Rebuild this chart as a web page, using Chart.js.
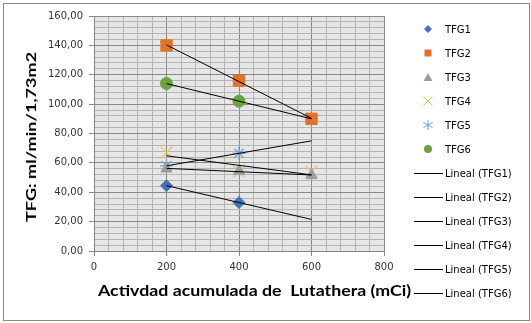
<!DOCTYPE html>
<html>
<head>
<meta charset="utf-8">
<script src="https://cdn.jsdelivr.net/npm/chart.js@4.4.1/dist/chart.umd.min.js"></script>
<style>
body { margin: 0; background: #fff; }
#wrap { position: relative; width: 531px; height: 323px; overflow: hidden; }
#frame { position: absolute; left: 3px; top: 3px; width: 527px; height: 318px; border: 1px solid #888; box-sizing: border-box; }
canvas { position: absolute; left: 0; top: 0; }
.title { position: absolute; font-family: Lato, "Open Sans", sans-serif; font-weight: bold; font-size: 16px; color: #000; white-space: nowrap; line-height: 20px; }
#xtitle { left: 98px; top: 280px; transform-origin: 0 50%; transform: scaleX(1.11); }
#ytitle { left: 31px; top: 137px; transform: translate(-50%, -50%) rotate(-90deg) scaleX(1.29); font-size: 14px; }
.leg { position: absolute; left: 413px; height: 12px; font: 10px "DejaVu Sans", sans-serif; color: #000; white-space: nowrap; display: flex; align-items: center; }
.leg svg { width: 30px; height: 12px; margin-right: 2px; }
</style>
</head>
<body>
<div id="wrap">
  <div id="frame"></div>
  <canvas id="chart" width="531" height="323"></canvas>
  <div class="title" id="xtitle">Activdad acumulada de&nbsp; Lutathera (mCi)</div>
  <div class="title" id="ytitle">TFG: ml/min/1,73m2</div>
  <div id="legend"></div>
</div>
<script>
// data
const doses = [200, 400, 600];
const tfg1 = [44.5, 33, null];
const tfg2 = [140, 116, 90];
const tfg3 = [56, 54.5, 51.5];
const tfg4 = [67, 54, 54];
const tfg5 = [58, 66.5, null];
const tfg6 = [114, 102, null];
const seriesNames = ['TFG1', 'TFG2', 'TFG3', 'TFG4', 'TFG5', 'TFG6'];
const xTicks = [0, 200, 400, 600, 800];
const yTicks = [0, 20, 40, 60, 80, 100, 120, 140, 160];

const allSeries = [tfg1, tfg2, tfg3, tfg4, tfg5, tfg6];
const colors = ['#4670b8', '#e2712b', '#9c9c9c', '#f0c04c', '#6f9fd8', '#6aa33f'];
const styles = ['rectRot', 'rect', 'triangle', 'crossRot', 'star', 'circle'];
const radii = [6, 8, 6.5, 8.5, 6.5, 6];

// least squares trend line, drawn across the dose range
function trend(ys) {
    const pts = doses.map((x, i) => ({ x: x, y: ys[i] })).filter(p => p.y !== null);
    const n = pts.length;
    const mx = pts.reduce((s, p) => s + p.x, 0) / n;
    const my = pts.reduce((s, p) => s + p.y, 0) / n;
    let num = 0, den = 0;
    pts.forEach(p => { num += (p.x - mx) * (p.y - my); den += (p.x - mx) * (p.x - mx); });
    const b = num / den;
    const x0 = doses[0], x1 = doses[doses.length - 1];
    return [{ x: x0, y: my + b * (x0 - mx) }, { x: x1, y: my + b * (x1 - mx) }];
}

const datasets = [];
allSeries.forEach((ys, i) => {
    const thin = styles[i] === 'crossRot' || styles[i] === 'star';
    datasets.push({
        label: seriesNames[i],
        data: doses.map((x, j) => ({ x: x, y: ys[j] })).filter(p => p.y !== null),
        showLine: false,
        pointStyle: styles[i],
        pointRadius: radii[i],
        backgroundColor: colors[i],
        borderColor: colors[i],
        borderWidth: thin ? 1.2 : 1,
        order: 1
    });
});
allSeries.forEach((ys, i) => {
    datasets.push({
        label: 'Lineal (' + seriesNames[i] + ')',
        data: trend(ys),
        showLine: true,
        borderColor: '#000',
        borderWidth: 1,
        pointRadius: 0,
        order: 0
    });
});

function isMajor(v, list) {
    return list.indexOf(Math.round(v)) !== -1 && Math.abs(v - Math.round(v)) < 1e-6;
}

new Chart(document.getElementById('chart'), {
    type: 'scatter',
    data: { datasets: datasets },
    options: {
        responsive: false,
        animation: false,
        layout: { padding: { top: 16, right: 147, left: 0, bottom: 0 } },
        plugins: {
            legend: { display: false },
            tooltip: { enabled: false },
            bgPlot: { color: '#e6e6e6' }
        },
        scales: {
            x: {
                type: 'linear',
                min: 0,
                max: 800,
                afterFit: s => { s.height = 72; },
                border: { color: '#868686' },
                grid: {
                    color: c => isMajor(c.tick.value, xTicks) ? '#878787' : '#b4b4b4',
                    tickColor: c => isMajor(c.tick.value, xTicks) ? '#878787' : 'rgba(0,0,0,0)',
                    tickLength: 5
                },
                ticks: {
                    stepSize: 40,
                    autoSkip: false,
                    maxRotation: 0,
                    padding: 5,
                    color: '#333',
                    font: { family: 'DejaVu Sans', size: 10 },
                    callback: v => isMajor(v, xTicks) ? String(Math.round(v)) : ''
                }
            },
            y: {
                min: 0,
                max: 160,
                afterFit: s => { s.width = 94; },
                border: { color: '#868686' },
                grid: {
                    color: c => isMajor(c.tick.value, yTicks) ? '#878787' : '#b4b4b4',
                    tickColor: c => isMajor(c.tick.value, yTicks) ? '#878787' : 'rgba(0,0,0,0)',
                    tickLength: 5
                },
                ticks: {
                    stepSize: 4,
                    autoSkip: false,
                    padding: 6,
                    color: '#333',
                    font: { family: 'DejaVu Sans', size: 10 },
                    callback: v => isMajor(v, yTicks) ? Math.round(v).toFixed(2).replace('.', ',') : ''
                }
            }
        }
    },
    plugins: [{
        id: 'bgPlot',
        beforeDraw(chart, args, opts) {
            const a = chart.chartArea;
            const ctx = chart.ctx;
            ctx.save();
            ctx.fillStyle = opts.color;
            ctx.fillRect(a.left, a.top, a.right - a.left, a.bottom - a.top);
            ctx.restore();
        }
    }]
});

// legend built as html next to the chart
function icon(style, color) {
    const c = 'fill="' + color + '"';
    const s = 'stroke="' + color + '"';
    switch (style) {
        case 'rectRot': return '<polygon points="15,2 19,6 15,10 11,6" ' + c + '/>';
        case 'rect': return '<rect x="11.5" y="2.5" width="7" height="7" ' + c + '/>';
        case 'triangle': return '<polygon points="15,2 19.5,10 10.5,10" ' + c + '/>';
        case 'crossRot': return '<path d="M10.5,1.5 L19.5,10.5 M19.5,1.5 L10.5,10.5" ' + s + ' stroke-width="1"/>';
        case 'star': return '<path d="M15,1 L15,11 M10.5,3.5 L19.5,8.5 M19.5,3.5 L10.5,8.5" ' + s + ' stroke-width="1"/>';
        case 'circle': return '<circle cx="15" cy="6" r="4" ' + c + '/>';
        default: return '<line x1="1" y1="6.5" x2="30" y2="6.5" stroke="#000" stroke-width="1"/>';
    }
}
const legend = document.getElementById('legend');
const legendItems = seriesNames.map((n, i) => ({ text: n, style: styles[i], color: colors[i] }))
    .concat(seriesNames.map(n => ({ text: 'Lineal (' + n + ')', style: 'line', color: '#000' })));
legendItems.forEach((item, i) => {
    const el = document.createElement('div');
    el.className = 'leg';
    el.style.top = (23 + i * 24) + 'px';
    el.innerHTML = '<svg viewBox="0 0 30 12">' + icon(item.style, item.color) + '</svg><span>' + item.text + '</span>';
    legend.appendChild(el);
});
</script>
</body>
</html>
